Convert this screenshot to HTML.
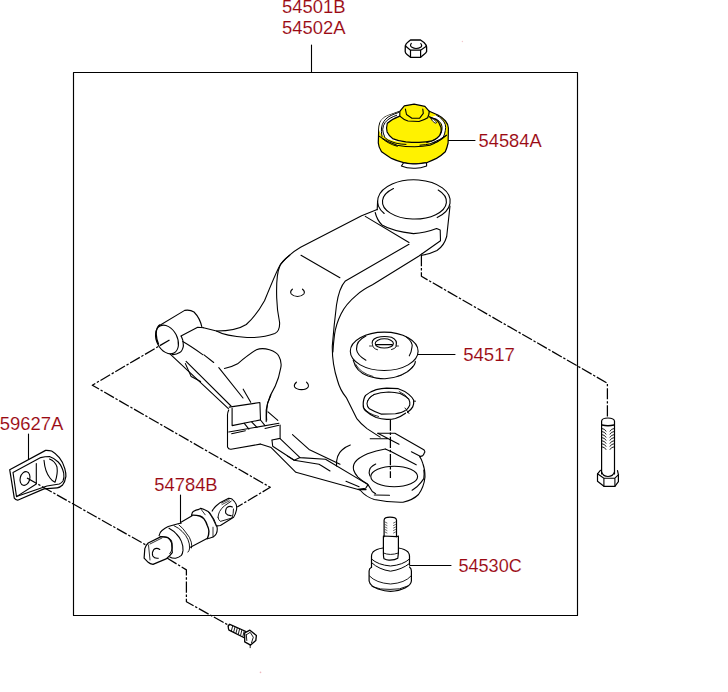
<!DOCTYPE html>
<html><head><meta charset="utf-8">
<style>
html,body{margin:0;padding:0;background:#fff;width:728px;height:692px;overflow:hidden}
svg{display:block}
text{font-family:"Liberation Sans",sans-serif;font-size:19.2px;fill:#9a0912;stroke:#fff;stroke-width:0.1px}
</style></head><body>
<svg width="728" height="692" viewBox="0 0 728 692">
<g fill="none" stroke="#000" stroke-width="1.1" stroke-linecap="round" stroke-linejoin="round">
<!-- box -->
<rect x="73.5" y="72.5" width="504" height="543" stroke-width="1.15"/>
<!-- leaders -->
<path d="M311.5 45V72.5M448 140.5H475M417 354.5H455M28.5 434V459M180.5 495V523M410 565.5H451"/>
</g>
<g id="labels">
<text x="282" y="13.3" textLength="63.5" lengthAdjust="spacingAndGlyphs">54501B</text>
<text x="282" y="33.9" textLength="63.5" lengthAdjust="spacingAndGlyphs">54502A</text>
<text x="478.6" y="146.5" textLength="63" lengthAdjust="spacingAndGlyphs">54584A</text>
<text x="463.2" y="360.8" textLength="51.7" lengthAdjust="spacingAndGlyphs">54517</text>
<text x="-0.3" y="430.3" textLength="63.6" lengthAdjust="spacingAndGlyphs">59627A</text>
<text x="154.3" y="491" textLength="63.3" lengthAdjust="spacingAndGlyphs">54784B</text>
<text x="458.5" y="571.6" textLength="63.2" lengthAdjust="spacingAndGlyphs">54530C</text>
</g>

<g fill="none" stroke="#000" stroke-width="1.1" stroke-linecap="round" stroke-linejoin="round">
<!-- nut -->
<path d="M405.3 46 Q405.8 43.5 408 42 L410.5 40 H420.5 L424 42.5 Q426.5 45 426.6 47 V51.5 Q426 53 424.5 54 L420.6 57.3 H410.5 L407 54.5 Q405.2 53 405.2 51.6 Z" stroke-width="1.3"/>
<path d="M405.5 46 L410.5 50.2 H420.6 L426.3 46.3 M410.5 50.2 V57.2 M420.6 50.2 V57.2" stroke-width="1.2"/>
<path d="M411.3 43.4 Q409.6 45.6 411.5 47 Q414 48.5 416 48.5 Q419 48.4 421 47 Q422.5 45.5 420.8 43.5" stroke-width="1.1"/>
<!-- right bolt -->
<path d="M601.6 421 Q602 418 607.9 418 Q614 418 614.5 421 V474 M601.6 421 V474" stroke-width="1.2"/>
<path d="M602 425 Q608 426.5 614 425" stroke-width="1.6"/>
<path d="M602 428.5 Q605 428.8 606 431.1 M614 428.5 Q611 428.8 610 431.1 M602 431.5 Q605 431.8 606 434.1 M614 431.5 Q611 431.8 610 434.1 M602 434.6 Q605 434.9 606 437.2 M614 434.6 Q611 434.9 610 437.2 M602 437.6 Q605 437.9 606 440.2 M614 437.6 Q611 437.9 610 440.2 M602 440.7 Q605 441.0 606 443.3 M614 440.7 Q611 441.0 610 443.3 M602 443.7 Q605 444.0 606 446.3 M614 443.7 Q611 444.0 610 446.3 M602 446.8 Q605 447.1 606 449.4 M614 446.8 Q611 447.1 610 449.4" stroke-width="0.9"/>
<path d="M600.4 470.3 L597.5 473.8 V481.2 L603.9 486.3 H614.9 L618.4 481.7 V474.7 L617.5 470.7" stroke-width="1.2"/>
<path d="M597.5 473.8 L603.9 478.2 H614.9 L618.6 474.7 M603.9 478.2 V486.3 M614.9 478.2 V486.3 M601.6 472 Q603 476.5 608 476.5 Q613 476.5 614.5 472" stroke-width="1.1"/>
<!-- dashed lines -->
<g stroke-dasharray="11.2 1.8 2.4 1.8" stroke-linecap="butt" stroke-width="1.25">
<path d="M421.4 255 V276.3 L607.4 383.2 V418"/>
<path d="M169.5 340 L92.3 385.2 L270.3 487.3 L237.2 507"/>
<path d="M167 558 L186.4 569.9 V601.7 L229.2 625.6"/>
<path d="M390.4 419.6 V478"/>
</g>
</g>


<g id="arm" fill="none" stroke="#000" stroke-width="1.1" stroke-linecap="round" stroke-linejoin="round">
<!-- socket -->
<path d="M384.2 213.5 A36.3 21.4 0 1 1 437.2 217.6"/>
<path d="M393.5 188.5 A32 17.4 0 1 0 438.2 190"/>
<path d="M377.6 201 L377.2 209.6"/>
<path d="M450 206 L446.7 236.5 Q444 246 437 250.5 Q430 254 422.1 255.3"/>
<path d="M375.2 212.5 Q377 220 382 225 Q392 231 413.5 233.6 Q425 233 436.6 228.5 L440.2 230 L440.5 240.8 L422.1 253.8"/>
<!-- upper arm -->
<path d="M377.2 209.6 L361.6 215.7 L300.6 247.3 Q289 254 280.3 264.7 Q277 270 264.5 300.8 Q256 316 246.3 324.5 Q236 331 216.5 331 L203.5 327.7"/>
<path d="M289.7 255.3 Q281 262 279.6 266.8 Q276 275 276.7 297.9 Q277 310 279.6 322.5 Q280 331 274.8 333.5 Q263 338 247 337.5 Q225 336 216.5 331"/>
<path d="M365.3 216.4 L409 242.5"/>
<path d="M409 244.3 L345.4 280.9 Q339 288 336.5 305 Q334 325 332.3 346 Q332 364 337.5 380.5 Q340 390 346.3 397.6 L356.6 418.3 Q361 424 367 428.6 L380.1 437.1"/>
<path d="M422.1 253.8 L418.6 256.2 L372.5 284.8 Q362 290 356.6 295.2 Q346 304 341 314 Q336 324 334.5 334.7 Q333.3 344 332.9 352"/>
<path d="M301 255.3 L339.9 277.7"/>
<!-- holes -->
<path d="M292.4 289.2 Q289.6 291.5 291.3 294 Q293.5 296.5 297.5 296.5 Q301.5 296.5 303.8 294 Q305.4 291.5 302.5 289.2"/>
<path d="M296.4 382.2 Q293.6 384.5 294.6 387 Q296.5 389.6 301.5 389.6 Q306.5 389.6 308.2 387 Q309 384.5 306.5 382.2"/>
<!-- left bushing -->
<path d="M181.3 336.3 Q183.5 340 183.4 346 Q182.5 351 179.7 352.5 Q176 354.8 172.3 354.5" stroke-width="1.2"/>
<path d="M159.5 325 Q156 328 156.2 334 Q156.5 340 158.5 344" stroke-width="1.3"/>
<ellipse cx="167" cy="339.5" rx="10.3" ry="15.2" transform="rotate(-27 167 339.5)"/>
<path d="M158.7 326 L184.7 310.4 Q190 309.5 194 312 Q200 318 202 327.5"/>
<path d="M181 336.1 L197.7 327.2 L203.5 327.7"/>
<!-- lower arm -->
<path d="M170.2 354.2 L228.4 408.7"/>
<path d="M182.7 341.5 Q190 345.5 202.7 354.6 M204 354.9 L213.7 362.5"/>
<path d="M186.1 361.4 L231 406"/>
<path d="M185.4 363.6 L191.2 376.6 L200.6 381.6"/>
<path d="M224.4 368.5 Q232 367 237.6 363.8 Q248 355 256.4 349.7 Q262 347.5 269.5 349.7 Q277 352 278.9 356.3 Q282 362 280.8 367.6 Q279 378 275.1 386.4 Q270 395 267.6 403.3 Q266 412 266.7 420.2"/>
<path d="M218.8 367.6 L243 398 M243.2 389.2 L250.7 402.3"/>
<!-- bracket tab -->
<path d="M229.2 407.1 L259.9 402.5 L260.5 419.9 M232.1 408.3 V425.6 L260.5 419.9"/>
<path d="M228.7 410 Q227.3 413 227.5 415.8 V447 Q228.5 449.5 231 449.3 L260.2 444.1"/>
<path d="M228.7 432 L279 423.3 M231.6 433.7 L245.4 430.8 M265 428.5 L279 425.3"/>
<path d="M244.3 423.3 L248.9 429.1 M251.8 422.2 L257 427.4 M260.5 420 L265 425.6"/>
<path d="M270.9 395 Q267 403 266.2 410 V421.6 M268 411.8 L277.8 420.4"/>
<path d="M280.1 425 V438.4 L271.9 440"/>
<!-- bottom flange -->
<path d="M280.1 438.6 L300 457.6 L325.5 459.3 L368 484.6 L372.3 491.5 L375.6 493.7"/>
<path d="M287.6 456.1 L294.2 460.2 L300 457.6"/>
<path d="M292.5 434.6 L309 449.4 L340 464.3"/>
<path d="M272 440.3 L272.7 446.2 L294.2 460.2 L319 464.3 L322 466 L330 471 M346 481.3 L359.1 486.8"/>
<path d="M358 489.3 L365.7 488.2 L368 484.6 M359.2 489.6 L366.1 489.6"/>
<path d="M260.2 444.1 L271.2 447.6 L295.9 472.3 L360 490 Q366 497 374.3 499.5 Q388 502.5 403 502.2 Q413 500 418.5 494.5 Q424 487 425 477 Q425 469 422.9 463.7 Q421.5 459 419.7 456.6"/>
<path d="M374.3 495 L389.5 495.3"/>
<path d="M336.5 466 Q336 455 342 450 Q346 446.5 350.3 445"/>
<!-- ball joint socket -->
<path d="M377.8 433.2 H394.9 L423.8 449.7 Q425.5 452 424.5 452.5 Q423.5 455.5 422.4 455.9 L419.7 456.6"/>
<path d="M377.8 433.2 L399 444.2 M370.2 438.7 H388"/>
<path d="M385.3 449 L391.5 451.8 L416.2 464.8 M411.4 451.8 L419.7 455.9"/>
<path d="M385.3 449 Q376 450.5 367.5 453.8 Q358 458 355.1 462.1 Q352.5 466 353.7 470.3 Q355 474 357.9 477.2 Q362 481 367.5 484.1"/>
<ellipse cx="394.2" cy="476.5" rx="23.4" ry="10.3"/>
<path d="M375.7 464.1 Q370 467 369.5 470.3 Q368.5 473 370 476"/>
<path d="M423.8 470 Q424.5 474 423.8 478.6 Q421 483 416.9 486.8 Q414 489 412.1 490.2"/>
</g>


<g id="parts" fill="none" stroke="#000" stroke-width="1.1" stroke-linecap="round" stroke-linejoin="round">
<!-- yellow bushing 54584A -->
<path fill="#fff200" d="M378.7 129.7 Q379 122 381.9 119.9 Q385 116 388.2 115.5 L399.8 111.3 L404.3 105.8 L414.1 104.2 L424.9 106.4 L429.3 111.3 L437.9 115 Q442 117 445.5 121 Q448 124 448.4 128 L448.1 143 Q447 148 445.3 151.8 Q441 156 436.5 158.4 Q431 161 426.6 162.7 Q420 164 414.6 163.8 Q408 164 403.6 162.7 Q397 161 391.5 158.4 Q386 155 381.6 151.8 Q378.5 147 378.3 143 Z" stroke-width="1.2"/>
<path fill="#fff" stroke="none" d="M379 130 Q379.5 122 382 119.5 Q385 116.5 388.2 115.5 L399.8 111.5 L399.8 116.1 Q392 119 387.3 123.2 Q386 128 387.1 132 Q389 136 392.6 138.6 Q398 141 405.8 141.9 Q395 142 388 139 Q380 135 379 130 Z M436.6 115.3 Q440 117 442 119.3 Q444.5 122 445.3 124.6 Q446 127.5 445.3 130.6 Q444.8 134 443.3 137.2 Q440.5 140 437.3 141.9 L433 143 L426.6 142.6 Q431 141.5 434.6 139.9 Q438 137.5 440 135.2 Q441.8 132 442 129.3 Q442.3 126.5 441.3 124 Q439.5 121 436.6 119.3 L430 117.3 Z"/>
<path d="M399.8 111.5 L399.8 116.1 Q404 120 408 121 L419 121.5 Q424 120 427.7 117.7 L428.8 114.4 L429.3 111.3" stroke-width="1.2"/>
<path d="M405.4 109.1 L406.5 114.5 L411.9 118.3 L419.5 118.3 L423.3 113.4 L422.8 109.1"/>
<path d="M399.8 116.1 Q392 119 387.3 123.2 Q386 128 387.1 132 Q389 136 392.6 138.6 Q398 141 405.8 141.9 Q414 142.6 419 142.4 Q426 142 432.1 140.8 Q437.5 138.5 439.8 135.3 Q442 131 441 127.6 Q439 122 436.5 119.9 L429.3 116.7" stroke-width="1.2"/>
<path d="M379.4 136.4 Q387 142 397 145.2 Q405 146.8 414.6 146.8 Q423 146.5 430 145.2 Q440 141 446.4 135.3"/>
<path d="M382 136.5 Q381 131 381.5 128 Q382 124 383.9 121.4 Q385.5 119 388.1 117.1 Q391 115.3 394.2 114.1 L398.5 112.5 M384.5 136.5 Q382.8 133 382.7 129.3 Q383 125.5 385.1 122.6 Q387 120 390 118.3 Q393 116.5 396.6 115.3 M384.5 137.1 Q386 139 388.1 140.2 Q392 142 396 143.2 Q401 144.3 406 144.4 M382 138.4 Q385 140.8 388.1 142.6 Q392.5 145 397.3 146.3" stroke-width="1"/>
<path d="M436.6 115.3 Q440 117 442 119.3 Q444.5 122 445.3 124.6 Q446 127.5 445.3 130.6 Q444.8 134 443.3 137.2 Q440.5 140 437.3 141.9 L433 143 M430 117.3 L436.6 119.3 Q439.5 121 441.3 124 Q442.3 126.5 442 129.3 Q441.8 132 440 135.2 Q438 137.5 434.6 139.9 Q431 141.5 426.6 142.6 M420 145.2 Q426 144.8 430 143.9 Q440 140 446.6 135.2" stroke-width="1"/>
<path d="M430.6 118 Q434 119 436.3 121.8 Q437 123.5 435.2 123.2 Q432 121.5 430.6 118 Z" fill="#fff" stroke-width="0.8"/>
<path fill="#fff" d="M403.6 162.7 Q408 164 414.6 163.8 Q420 164 426.6 162.7 L426.6 166 Q420 168.4 414.6 168.2 Q407 168.4 401.4 166 Z"/>
<!-- dust boot 54517 -->
<ellipse cx="384.2" cy="351.3" rx="33.9" ry="19.2" fill="#fff"/>
<path d="M353.2 360.2 Q356 372 368 376 Q378 379 385 378.8 Q404 377 412 368 Q415.5 364 415.3 361.3"/>
<path d="M355.5 364 Q360 373 373 376.5 M397 376.5 Q408 373 413 366" stroke-width="0.8"/>
<path d="M365.9 336 Q356 341 356.5 349.2 Q357 355 365.9 360.2"/>
<path d="M406.5 337.1 Q413 342 412 347 Q411.5 352 409.3 355.8"/>
<path d="M373 346.5 Q370 340 377 337.5 Q384 335.5 391.5 337.3 Q398 340 396 346.3"/>
<path d="M369.5 346 H371.5 M396.5 346 H398.5" stroke-width="0.8"/>
<path d="M373.5 347.5 Q375.5 349.5 377.5 349.8 M391.5 349.6 Q394.5 349 396 347" stroke-width="0.9"/>
<ellipse cx="384.3" cy="343.4" rx="9.1" ry="4.6"/>
<path d="M376.3 344.6 H392.3"/>
<!-- snap ring -->
<path d="M405.5 413.2 Q401 416.5 395.4 418.5 Q391 419.6 386.7 419.4 Q381 419 376.2 417.5 Q369.5 414.5 365.6 410.8 Q363 408.5 363.2 404.5 Q363.3 398.5 365.6 395.4 Q370 391.5 376.2 389.6 Q381.5 388.3 386.7 388.2 L398.3 388.7 Q404 390.5 408.8 394.4 Q412.5 397.5 413.7 400.2 Q414 404 412.7 406.9 Q411 410 407.5 412.3" stroke-width="1.2"/>
<path d="M405.3 410.5 Q402 412.8 395.4 413.7 L381 414.1 Q374 411.5 369.4 408.8 Q367 406.5 367 403.5 Q367.5 398.5 374.2 394.4 Q380 392.5 388.7 392 Q395 392.3 400.2 393.5 Q405.5 396 408.8 399.2 Q410.3 402 409.8 405 Q408.5 408 406.5 409.8" stroke-width="1.1"/>
<path d="M399.2 391.5 Q406 394.5 408.8 399.2 M367.5 400.7 Q369 396.5 374.2 394.4 M363.7 407.9 Q368 414 378.6 416.5" stroke-width="0.8"/>
<path d="M413.7 401.2 H415.6 M405 408 L409 413.5" stroke-width="0.9"/>
<!-- ball joint 54530C -->
<path d="M384.1 536.7 V520 Q384.5 517.2 390 517.2 Q396 517.2 396.5 520 V536.7" stroke-width="1.2"/>
<path d="M385 522 l2 1 M385 524.5 l2 1 M385 527 l2 1 M385 529.5 l2 1 M385 532 l2 1 M395.5 522 l-2 1 M395.5 524.5 l-2 1 M395.5 527 l-2 1 M395.5 529.5 l-2 1 M395.5 532 l-2 1" stroke-width="0.6"/>
<path d="M383.4 536 L396.5 536.7 L398.4 536 M383.4 536.5 L383.4 553 Q383.5 558 384.1 558.8 Q387 560.5 390 560.1 Q395 560 397.8 558.2 L398.4 553 V536.5" stroke-width="1.2"/>
<path d="M383.4 553 Q390 556 398.4 553" stroke-width="0.9"/>
<path d="M383 548 Q376 549 373 552 Q371.5 554 371.5 556 V567.3 M398.5 548 Q405 549 408 552 Q409.5 554 409.5 556 V565" stroke-width="1.2"/>
<path d="M371.5 559 Q378 565 390.5 566 Q403 565 409.5 559 M372 563 Q379 569.5 390.5 571.2 Q402 569.5 409.5 563.5" stroke-width="1"/>
<path d="M371.5 567.3 Q369.1 568.5 369.1 571 V581 Q370 586 378 589 Q385 591.4 390.5 591.4 Q399 591 405 588 Q411 585 411.4 581 V571 Q411.4 568.5 409.5 567" stroke-width="1.2"/>
<path d="M369.5 576 Q376 583 390.5 584 Q405 583 411 576 M372 586.5 Q380 590 390 589.4 Q400 590 408 586" stroke-width="0.9"/>
<!-- bushing 54784B -->
<path d="M144.8 548.6 Q146 545 148.2 543 L160.6 536.9 Q165 536.5 167.5 537.6 Q171 540 171.6 543 L172.3 552.7 Q170 556 166.1 558.9 L153 564.4 Q150 564 148.2 562.3 L144.1 558.2 Z" fill="#fff" stroke-width="1.2"/>
<path d="M148.5 545 L150 560 M150 544 L162 538" stroke-width="0.8"/>
<path d="M159.8 549.5 Q156.5 547.3 153.8 549.5 Q151.6 552.5 152.8 556 Q154.5 558.8 158.3 558.2"/>
<path d="M159.1 535.6 Q159.5 532.5 162 530.5 Q165 528 168.2 526.5 L178.1 523.7 L181.4 523"/>
<path d="M169 528.2 Q174 531 176.4 534 Q180 537.5 181.4 541.4 Q183.3 546 183 550.4 Q182.5 554 181.4 555.4 Q179 557.5 175.6 558.3 Q172 558.5 169.8 557"/>
<path d="M174 525.7 Q179 528 182.2 531.5 Q186 535 188 539.7 Q189.8 544 189.6 548 Q189.5 550.5 188 552.1 M178.9 524.9 Q183 528 186.3 533.1 Q190 537 191.3 542.2 Q192 546 191.5 548" stroke-width="0.9"/>
<path d="M181.4 522 L192.1 515.8 M190.4 547.2 L206.1 539"/>
<path d="M160 536.4 Q163 536.5 167.4 537.3 Q170.5 538.5 171.5 540.6 Q172.6 544 172.3 548 Q171.5 551.5 169.8 553.7" stroke-width="0.9"/>
<path d="M191.6 515.2 Q192 512.5 193.2 511.5 Q196 509.8 199 509.4 L200.7 508.2 Q205 509.5 208.1 511.5 Q210 513 211.4 515.6 Q214 519 215.5 523 Q217 526 217.2 528 Q217.5 531.5 216.3 533.7 Q215 536 213 537 Q209 538.5 206.4 538.7" stroke-width="1.1"/>
<path d="M191.6 515.2 Q196 515 199.8 516 Q202.5 517 204 518.9 Q206 521.5 207.3 525.5 Q208.8 528.5 208.9 531.3 Q209 535 207.3 538.7" stroke-width="1.4"/>
<path d="M200.7 508.8 L205.2 514.8 M208.9 512.3 Q213 518 216.3 526.3 M213 527.2 V537" stroke-width="0.8"/>
<path d="M212.2 511.1 Q214 507.5 216.3 505.7 L220.4 502.4 L228.7 498.3 Q230.5 498.3 232 499.1 Q235 501.5 236.1 504.1 Q237 507 236.5 509.8 Q235.5 514.5 233.6 517.3 L220.4 525.5 L217.2 525.9" fill="#fff"/>
<path d="M218 517.3 Q218.5 513.5 219.6 511.5 Q221.5 508 224.6 505.7 L231.2 501.2 M233.5 509 Q233.5 514 232 518 L220.4 521.4 Q218.5 520 218 517.3" stroke-width="0.9"/>
<path d="M221.5 503 L229 499.5 M222 504.5 L229.5 500.8" stroke-width="0.7"/>
<path d="M232.4 507 Q229.6 505.6 227 507.5 Q225 510 225.8 513.3 Q227.3 515.8 231.2 515.6"/>
<!-- bolt under -->
<path d="M229.8 624.3 L246 631.5 M229.1 630.2 L244.7 638 M229.8 624.3 Q227.6 625.3 228.3 627.2 Q228.3 629.4 229.1 630.2" stroke-width="1.3"/>
<path d="M232.6 626.3 L231.4 630.7 M234.9 627.3 L233.7 631.8 M237.2 628.3 L236.0 633.0 M239.5 629.3 L238.3 634.1 M241.8 630.4 L240.6 635.2 M244.1 631.4 L242.9 636.4" stroke-width="0.9"/>
<path d="M244.7 632.8 L249.9 630.2 L256.4 635.4 L255.8 640.6 L250.6 645.1 L244.7 641.9 Z" fill="#fff" stroke-width="1.3"/>
<path d="M246.3 634.8 L250.2 632.3 L253.3 637.2 L251.5 642.8 M246.3 634.8 L246.8 640.5 M250.2 645 V647.7" stroke-width="0.9"/>
<!-- clip 59627A -->
<path d="M9.7 469.7 L45.6 450.4 Q49 450.3 51.6 451 Q56 453.5 59.3 457.6 Q63 462 64.8 468.6 Q66 473 65.9 476.3 Q65 482 62.6 485 Q60 487.5 57.1 487.8 L44 488.9 L17.6 500.2 Q15.5 500 14.3 498.2 Z" fill="#fff" stroke-width="1.2"/>
<path d="M13 472.4 L40.7 457.6 Q45 456.5 49.5 456.5 Q54 458 58.2 462 Q62 466 63.7 473 Q64.5 478 63 481 Q61.5 483 59.3 484 L47 486 L16.5 496.6 Z"/>
<path d="M16.5 496.6 L36.3 484 V463.6 M44 460.3 Q45 472 50 478 Q52 481 55 482.3 Q58 474 57 467 Q55 461 49.5 459"/>
<ellipse cx="25" cy="478.5" rx="4.8" ry="7" transform="rotate(15 25 478.5)"/>
</g>

<g fill="none" stroke="#000" stroke-width="1.25" stroke-dasharray="11.2 1.8 2.4 1.8"><path d="M27 478 L146 545"/></g>
<circle cx="462.4" cy="41.5" r="0.7" fill="#f2c8cc"/><circle cx="260.5" cy="672.4" r="0.8" fill="#eeb8bf"/>
<!-- DRAWING -->
</svg>
</body></html>
